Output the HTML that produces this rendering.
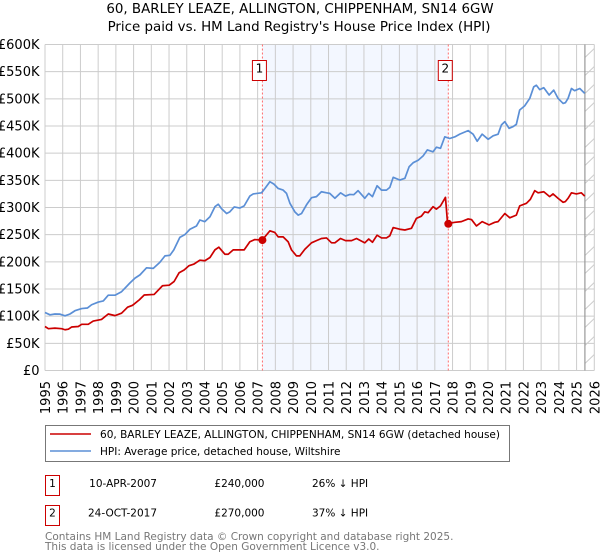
<!DOCTYPE html>
<html>
<head>
<meta charset="utf-8">
<title>60, Barley Leaze price chart</title>
<style>
html,body{margin:0;padding:0;background:#fff;width:600px;height:560px;overflow:hidden}
svg{display:block}
text{font-family:"DejaVu Sans","Liberation Sans",sans-serif;fill:#000}
</style>
</head>
<body>
<svg id="chart" width="600" height="560" viewBox="0 0 600 560" xmlns="http://www.w3.org/2000/svg">
  <text x="300" y="13" text-anchor="middle" font-size="13.4">60, BARLEY LEAZE, ALLINGTON, CHIPPENHAM, SN14 6GW</text>
  <text x="299" y="31" text-anchor="middle" font-size="13.4">Price paid vs. HM Land Registry's House Price Index (HPI)</text>
  <g id="plot"></g>
  <g>
    <rect x="45.5" y="425.5" width="464" height="36" fill="#fff" stroke="#777" stroke-width="1"/>
    <line x1="50" y1="434" x2="91" y2="434" stroke="#cc0000" stroke-width="1.6"/>
    <text x="100" y="438" font-size="10.53">60, BARLEY LEAZE, ALLINGTON, CHIPPENHAM, SN14 6GW (detached house)</text>
    <line x1="50" y1="451" x2="91" y2="451" stroke="#5b8fd6" stroke-width="1.6"/>
    <text x="100" y="455" font-size="10.53">HPI: Average price, detached house, Wiltshire</text>
  </g>
  <g>
    <rect x="45.5" y="475.5" width="14" height="20" fill="#fff" stroke="#cc0000" stroke-width="1"/>
    <text x="52.5" y="487" text-anchor="middle" font-size="10.5">1</text>
    <text x="157" y="487" text-anchor="end" font-size="10.5">10-APR-2007</text>
    <text x="264.5" y="487" text-anchor="end" font-size="10.5">£240,000</text>
    <text x="312" y="487" font-size="10.5">26% ↓ HPI</text>
    <rect x="45.5" y="505.5" width="14" height="20" fill="#fff" stroke="#cc0000" stroke-width="1"/>
    <text x="52.5" y="516.5" text-anchor="middle" font-size="10.5">2</text>
    <text x="157" y="516.5" text-anchor="end" font-size="10.5">24-OCT-2017</text>
    <text x="264.5" y="516.5" text-anchor="end" font-size="10.5">£270,000</text>
    <text x="312" y="516.5" font-size="10.5">37% ↓ HPI</text>
  </g>
  <text x="45" y="540" font-size="10.5" style="fill:#777">Contains HM Land Registry data © Crown copyright and database right 2025.</text>
  <text x="45" y="550" font-size="10.5" style="fill:#777">This data is licensed under the Open Government Licence v3.0.</text>
</svg>
<script>
const yTickValues = [0,50,100,150,200,250,300,350,400,450,500,550,600];
const yTickLabels = ['£0','£50K','£100K','£150K','£200K','£250K','£300K','£350K','£400K','£450K','£500K','£550K','£600K'];
const xTickYears = [1995,1996,1997,1998,1999,2000,2001,2002,2003,2004,2005,2006,2007,2008,2009,2010,2011,2012,2013,2014,2015,2016,2017,2018,2019,2020,2021,2022,2023,2024,2025,2026];
const saleLabels = ['1','2'];
const saleDates = [2007.27,2017.76];
const salePrices = [240,270];
const shadeSpan = [2007.27,2017.76];
const dataEnd = 2025.47;

const hpiDates = [1995.00,1995.28,1995.56,1995.85,1996.13,1996.41,1996.69,1997.07,1997.39,1997.63,1998.01,1998.29,1998.57,1998.95,1999.32,1999.79,2000.08,2000.36,2000.73,2001.11,2001.48,2001.77,2002.05,2002.27,2002.61,2002.89,2003.18,2003.55,2003.74,2004.02,2004.31,2004.59,2004.78,2004.96,2005.25,2005.43,2005.68,2006.00,2006.24,2006.56,2006.75,2007.22,2007.41,2007.69,2007.92,2008.16,2008.44,2008.63,2008.82,2009.10,2009.29,2009.48,2009.76,2010.04,2010.32,2010.60,2010.89,2011.07,2011.36,2011.68,2011.96,2012.20,2012.43,2012.67,2013.05,2013.27,2013.48,2013.74,2013.99,2014.27,2014.46,2014.65,2015.02,2015.31,2015.55,2015.78,2016.06,2016.34,2016.58,2016.90,2017.09,2017.32,2017.56,2017.84,2018.13,2018.41,2018.88,2019.16,2019.39,2019.67,2020.01,2020.29,2020.57,2020.76,2020.95,2021.19,2021.42,2021.60,2021.79,2022.07,2022.36,2022.58,2022.73,2022.92,2023.15,2023.45,2023.71,2023.95,2024.24,2024.37,2024.52,2024.71,2024.89,2025.18,2025.46];
const hpiValues = [106.7,102.5,104,103.7,100.6,104,110,114,115,121,126,128,138.6,138.6,145,161,170,176,189,188,199,211,212,222,245,250,260,266,277,274,283,301.5,306,298,289,292,301,299,303,321,325,327,335,347.5,343,335,332,326,308,292,286,289,305,318,320,329,327,326,317,327,321,324,323.6,331,317,326,320,340,332,332,337,355.5,350.6,353.7,375,382.5,387,395,406,402.5,411,409,430,427,430,435,441.5,435,422,435,425.5,432,435,452,458,445.7,449,453,479.5,487,501,522,525,517,520.5,507,516,501,491.5,493,501,519,515,519,510];

const priceDates = [1995.00,1995.19,1995.56,1995.94,1996.13,1996.32,1996.50,1996.88,1997.07,1997.44,1997.72,1998.19,1998.57,1998.95,1999.32,1999.66,1999.94,2000.32,2000.60,2001.16,2001.63,2002.01,2002.29,2002.57,2002.85,2003.13,2003.41,2003.74,2004.02,2004.31,2004.59,2004.81,2005.15,2005.34,2005.62,2005.99,2006.24,2006.56,2006.84,2007.27,2007.41,2007.69,2007.97,2008.16,2008.44,2008.72,2008.91,2009.19,2009.38,2009.66,2010.04,2010.32,2010.60,2010.89,2011.17,2011.36,2011.68,2011.96,2012.30,2012.58,2013.05,2013.27,2013.48,2013.74,2013.99,2014.27,2014.46,2014.65,2015.02,2015.31,2015.68,2015.96,2016.24,2016.43,2016.62,2016.90,2017.09,2017.32,2017.60,2017.72,2018.13,2018.50,2018.88,2019.07,2019.35,2019.67,2020.06,2020.38,2020.57,2020.95,2021.23,2021.60,2021.79,2022.17,2022.39,2022.64,2022.83,2023.15,2023.48,2023.67,2023.95,2024.24,2024.37,2024.52,2024.71,2024.99,2025.27,2025.46];
const priceValues = [81,77,78,77,75,76,80,81,85,85,91,94,104,101,105.5,116.5,120,130,139,140,156,157,164,180,185,193,196,203,202,208,222,227,214,214,222,222,222,237,241,240,246,257,254,246,246,237,222,211,211,223,235,239,243,244,235,235,243,239,239,243,235,242,236,249,244,244,248,263,260,258.6,261.7,280,284,292,290.5,301.5,297,303,318.7,270.5,272.7,274,279,277.8,266,274,268,272.7,274,289,281,286,303,307.7,315,331,327,329,320,325,317,309.6,311,317,327,325,327,321];

const NS = 'http://www.w3.org/2000/svg';
const plot = document.getElementById('plot');
const plotLeft = 45, plotRight = 594.3, plotTop = 44.5, plotBottom = 370.5;
const xMin = 1995, xMax = 2026, yMax = 600;
function xScale(year) { return plotLeft + (year - xMin) / (xMax - xMin) * (plotRight - plotLeft); }
function yScale(value) { return plotBottom - value / yMax * (plotBottom - plotTop); }
function make(tag, attrs, parent) {
  const el = document.createElementNS(NS, tag);
  for (const k in attrs) el.setAttribute(k, attrs[k]);
  parent.appendChild(el);
  return el;
}
function linePath(dates, values) {
  return dates.map(function (d, i) { return (i ? 'L' : 'M') + xScale(d).toFixed(2) + ' ' + yScale(values[i]).toFixed(2); }).join('');
}

// shaded span between the two sales
const shade = make('rect', {x: xScale(shadeSpan[0]), y: plotTop, width: xScale(shadeSpan[1]) - xScale(shadeSpan[0]), height: plotBottom - plotTop, fill: '#f3f7ff'}, plot);



// horizontal gridlines and y labels
yTickValues.forEach(function (v, i) {
  const g = make('line', {x1: plotLeft, x2: plotRight, y1: yScale(v), y2: yScale(v), stroke: '#cccccc', 'stroke-width': 1}, plot);
  
  
  const t = make('text', {x: 39.5, y: yScale(v) + 4.5, 'text-anchor': 'end', 'font-size': 13}, plot);
  t.textContent = yTickLabels[i];
  
  
});

// vertical gridlines and x labels
xTickYears.forEach(function (yr) {
  const x = xScale(yr);
  const g = make('line', {x1: x, x2: x, y1: plotTop, y2: plotBottom, stroke: '#cccccc', 'stroke-width': 1}, plot);
  
  
  const t = make('text', {transform: 'translate(' + (x + 5) + ',381) rotate(-90)', 'text-anchor': 'end', 'font-size': 13}, plot);
  t.textContent = String(yr);
  
  
});

// no-data hatch to the right of the last data point
const hatchLeft = xScale(dataEnd);
for (let y = plotTop + 13; y < plotBottom + 1; y += 18) {
  const h = make('line', {x1: hatchLeft, y1: y, x2: plotRight, y2: y - 9, stroke: '#cccccc', 'stroke-width': 1}, plot);
  
  
}
const endLine = make('line', {x1: hatchLeft, x2: hatchLeft, y1: plotTop, y2: plotBottom, stroke: '#999999', 'stroke-width': 1.2}, plot);



// sale marker lines
saleDates.forEach(function (d) {
  const l = make('line', {x1: xScale(d), x2: xScale(d), y1: plotTop, y2: plotBottom, stroke: '#ff6b6b', 'stroke-width': 1, 'stroke-dasharray': '2 2'}, plot);
  
  
});

// series
const hpiLine = make('path', {d: linePath(hpiDates, hpiValues), fill: 'none', stroke: '#5b8fd6', 'stroke-width': 1.7, 'stroke-linejoin': 'round'}, plot);


const priceLine = make('path', {d: linePath(priceDates, priceValues), fill: 'none', stroke: '#cc0000', 'stroke-width': 1.7, 'stroke-linejoin': 'round'}, plot);



// sale points and numbered badges
saleDates.forEach(function (d, i) {
  const c = make('circle', {cx: xScale(d), cy: yScale(salePrices[i]), r: 4, fill: '#cc0000'}, plot);
  
  
  const b = make('rect', {x: xScale(d) - 10, y: 60.5, width: 14, height: 20, fill: '#fff', stroke: '#cc0000', 'stroke-width': 1}, plot);
  
  
  const t = make('text', {x: xScale(d) - 3, y: 72.5, 'text-anchor': 'middle', 'font-size': 12}, plot);
  t.textContent = saleLabels[i];
  
  
});
</script>
</body>
</html>
